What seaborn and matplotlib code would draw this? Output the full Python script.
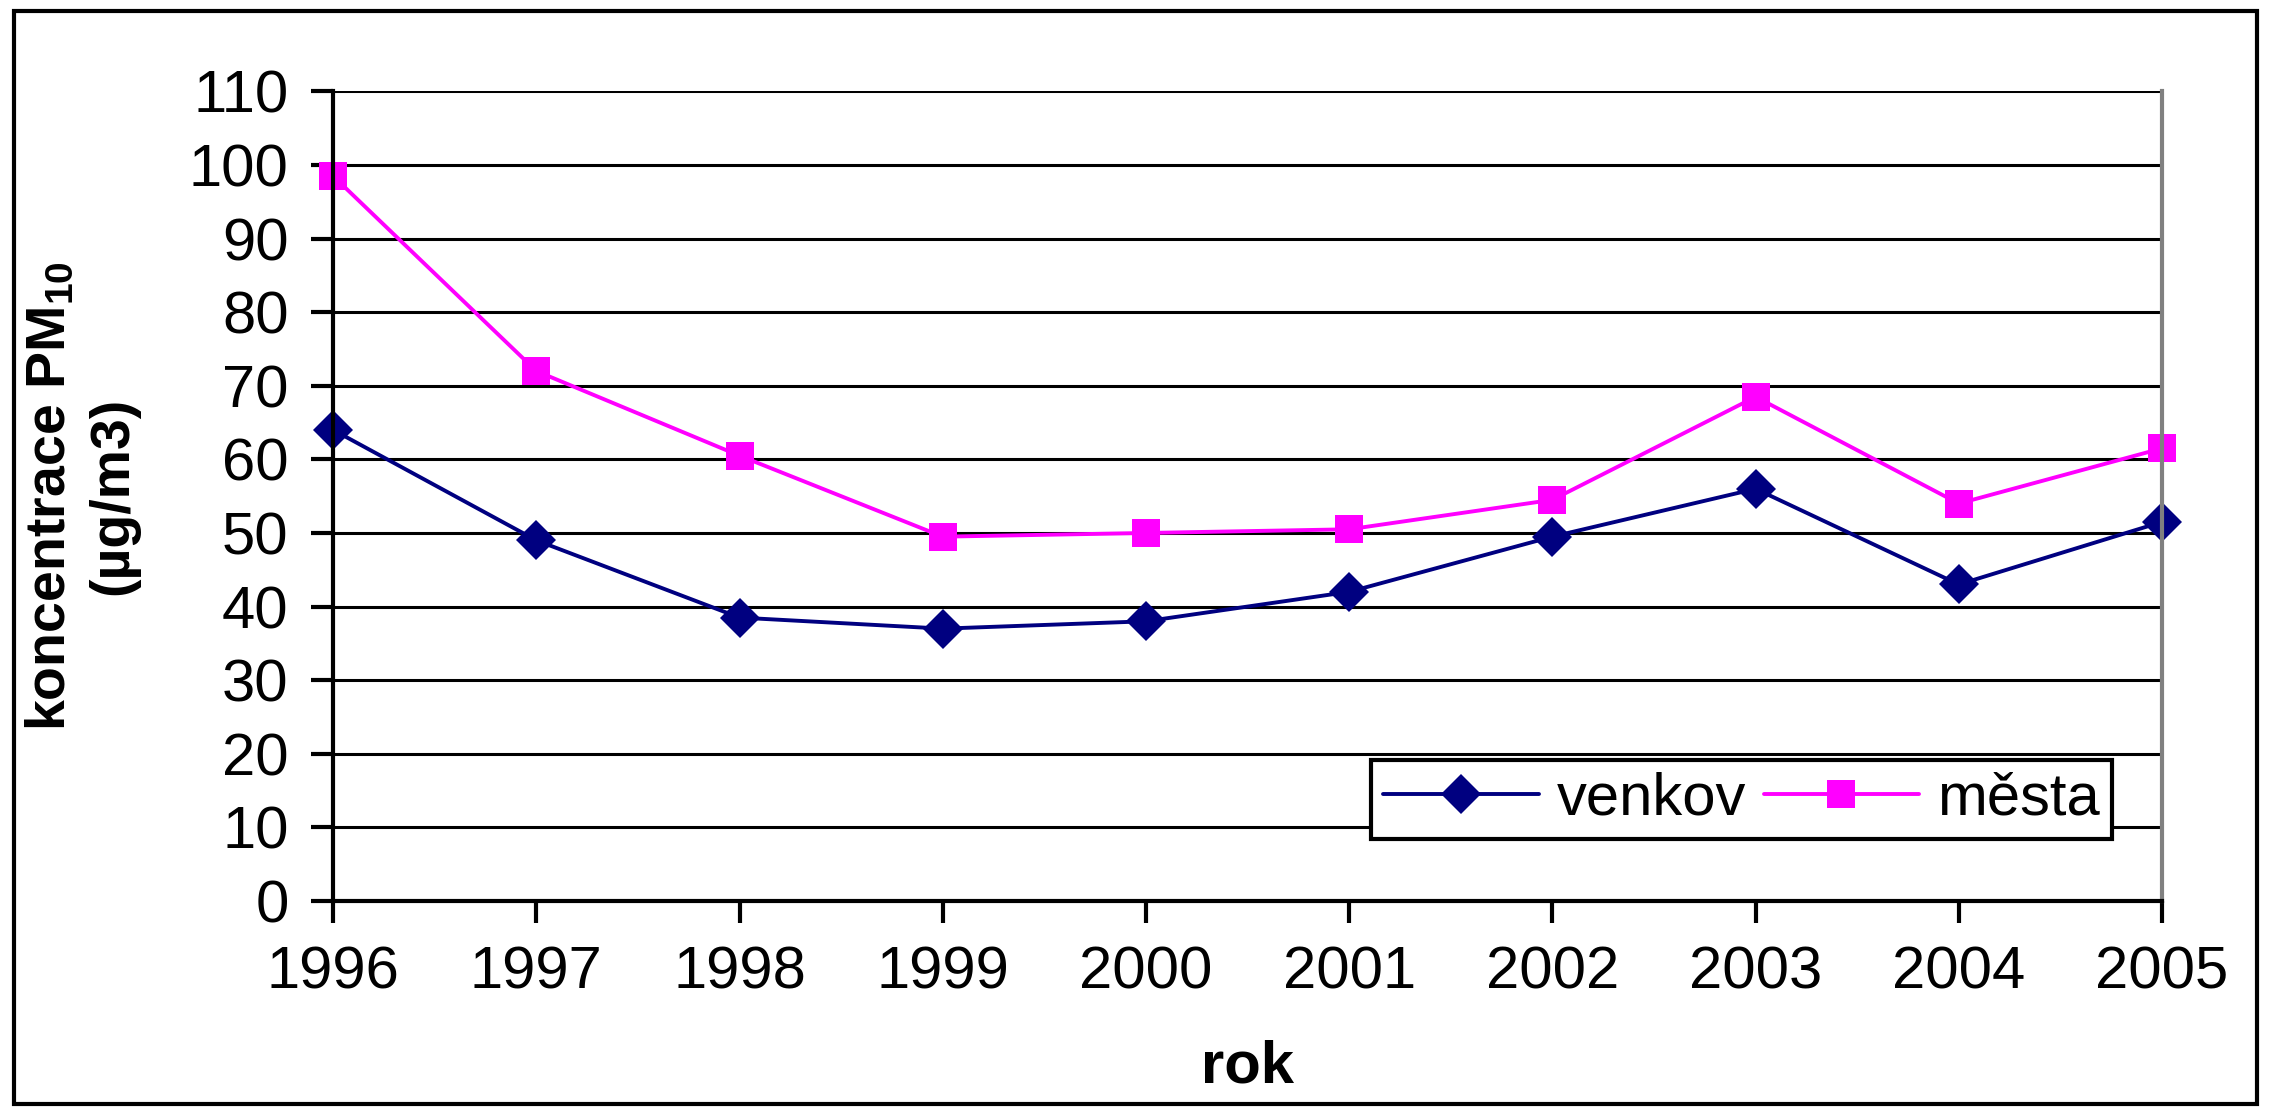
import matplotlib
matplotlib.use("Agg")
import matplotlib.pyplot as plt
import pandas as pd
import seaborn as sns
from matplotlib.patches import Rectangle

years = [1996, 1997, 1998, 1999, 2000, 2001, 2002, 2003, 2004, 2005]
venkov = [64, 49, 38.5, 37, 38, 42, 49.5, 56, 43, 51.5]
mesta = [98.5, 72, 60.5, 49.5, 50, 50.5, 54.5, 68.5, 54, 61.5]
y_ticks = list(range(0, 111, 10))

df = pd.DataFrame({
    "rok": years * 2,
    "hodnota": venkov + mesta,
    "serie": ["venkov"] * len(years) + ["města"] * len(years),
})

sns.set_theme(style="white")
plt.rcParams["font.family"] = ["Liberation Sans", "DejaVu Sans"]
plt.rcParams["mathtext.fontset"] = "custom"
plt.rcParams["mathtext.rm"] = "Liberation Sans:bold"
plt.rcParams["mathtext.default"] = "rm"
plt.rcParams["text.color"] = "black"
plt.rcParams["xtick.color"] = "black"
plt.rcParams["ytick.color"] = "black"
plt.rcParams["axes.labelcolor"] = "black"

fig = plt.figure(figsize=(22.71, 11.15), dpi=100)
ax = fig.add_axes([0.1467, 0.192, 0.8053, 0.726])
fig.patches.append(Rectangle((0.006, 0.01), 0.988, 0.98, transform=fig.transFigure,
                             fill=False, edgecolor="black", linewidth=3))

sns.lineplot(data=df, x="rok", y="hodnota", hue="serie", style="serie",
             palette={"venkov": "#000080", "města": "#FF00FF"},
             markers={"venkov": "D", "města": "s"}, dashes=False,
             markersize=20, linewidth=2.8, markeredgewidth=0, ax=ax)
for line in ax.lines:
    line.set_clip_on(False)

ax.set_xlim(1996, 2005)
ax.set_ylim(0, 110)
ax.set_yticks(y_ticks)
ax.set_xticks(years)
ax.grid(axis="y", color="black", linewidth=2.2)
ax.set_axisbelow(True)
for s in ["left", "bottom"]:
    ax.spines[s].set_color("black")
    ax.spines[s].set_linewidth(3)
ax.spines["top"].set_visible(False)
ax.spines["right"].set_color("#808080")
ax.spines["right"].set_linewidth(3)
ax.tick_params(axis="both", labelsize=43, length=16, width=3, direction="out",
               pad=16, left=True, bottom=True)

ax.set_xlabel("rok", fontsize=43, fontweight="bold", labelpad=28)
ax.set_ylabel("koncentrace PM$_{10}$\n(µg/m3)", fontsize=40, fontweight="bold",
              labelpad=36, linespacing=1.25)

leg = ax.legend(loc="lower right", bbox_to_anchor=(0.9725, 0.077), ncol=2, fontsize=43,
                frameon=True, fancybox=False, edgecolor="black", handlelength=2.6,
                borderpad=0.2, columnspacing=0.3, handletextpad=0.3, borderaxespad=0)
leg.get_frame().set_linewidth(3)
leg.get_frame().set_alpha(1)

fig.savefig("out.png", dpi=100)
